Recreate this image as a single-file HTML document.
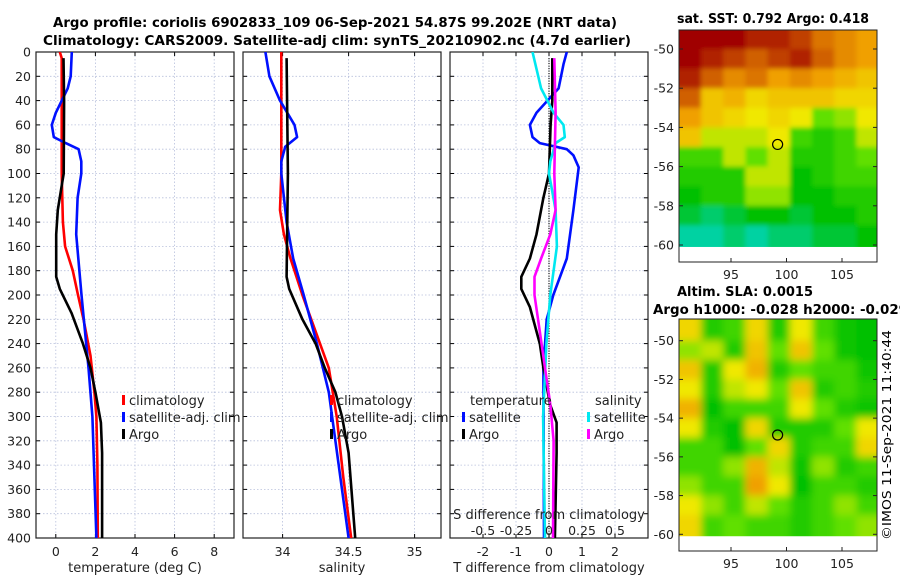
<!DOCTYPE html>
<html><head><meta charset="utf-8"><style>
html,body{margin:0;padding:0;background:#fff}
svg{display:block;font-family:"DejaVu Sans","Liberation Sans",sans-serif}
</style></head><body>
<svg id="fig" width="900" height="580" viewBox="0 0 900 580" xmlns="http://www.w3.org/2000/svg">
<defs>
<filter id="blur" filterUnits="userSpaceOnUse" x="650" y="280" width="250" height="300"><feGaussianBlur stdDeviation="4"/></filter>
<filter id="blur2" filterUnits="userSpaceOnUse" x="650" y="0" width="250" height="280"><feGaussianBlur stdDeviation="2.5"/></filter>
<clipPath id="c1"><rect x="36" y="52" width="198" height="486"/></clipPath>
<clipPath id="c2"><rect x="243" y="52" width="198" height="486"/></clipPath>
<clipPath id="c3"><rect x="450" y="52" width="198" height="486"/></clipPath>
<clipPath id="cm1"><rect x="679" y="30" width="198" height="232"/></clipPath>
<clipPath id="cm2"><rect x="679" y="319" width="198" height="232"/></clipPath>
</defs>
<text x="335" y="27" text-anchor="middle" font-weight="bold" font-size="13" textLength="564" lengthAdjust="spacingAndGlyphs">Argo profile: coriolis 6902833_109 06-Sep-2021 54.87S 99.202E (NRT data)</text>
<text x="337" y="45" text-anchor="middle" font-weight="bold" font-size="13" textLength="588" lengthAdjust="spacingAndGlyphs">Climatology: CARS2009. Satellite-adj clim: synTS_20210902.nc (4.7d earlier)</text>
<text x="677" y="23" font-weight="bold" font-size="13" textLength="192" lengthAdjust="spacingAndGlyphs">sat. SST: 0.792 Argo: 0.418</text>
<text x="677" y="296" font-weight="bold" font-size="13" textLength="136" lengthAdjust="spacingAndGlyphs">Altim. SLA: 0.0015</text>
<text x="653" y="314" font-weight="bold" font-size="13" textLength="255" lengthAdjust="spacingAndGlyphs">Argo h1000: -0.028 h2000: -0.029</text>
<text transform="translate(891,540) rotate(-90)" font-size="12.5" textLength="210" lengthAdjust="spacingAndGlyphs">©IMOS 11-Sep-2021 11:40:44</text>
<g id="root"></g>
</svg>
<script>
// ---------- data ----------
const depthTicks = [0,20,40,60,80,100,120,140,160,180,200,220,240,260,280,300,320,340,360,380,400];
const tempTicks = [0,2,4,6,8];
const salTicks = [34,34.5,35];
const salTickLabels = ["34","34.5","35"];
const tdiffTicks = [-2,-1,0,1,2];
const sdiffTicks = [-0.5,-0.25,0,0.25,0.5];
const sdiffTickLabels = ["-0.5","-0.25","0","0.25","0.5"];

const argoTempDepth = [5,40,100,110,130,150,185,195,215,240,260,280,305,330,400];
const argoTemp =      [0.39,0.42,0.4,0.3,0.1,0.02,0.02,0.2,0.8,1.37,1.75,2.0,2.28,2.34,2.34];
const climTempDepth = [0,5,40,100,140,160,180,200,220,250,280,300,340,400];
const climTemp =      [0.2,0.3,0.3,0.3,0.36,0.47,0.86,1.12,1.4,1.75,1.95,2.05,2.1,2.12];
const satTempDepth =  [0,20,30,50,60,70,75,80,90,100,120,150,200,260,300,400];
const satTemp =       [0.81,0.75,0.6,0.0,-0.2,-0.1,0.5,1.15,1.29,1.29,1.1,1.03,1.3,1.65,1.85,2.05];

const argoSalDepth = [5,100,185,195,220,240,260,280,300,330,400];
const argoSal =      [34.03,34.04,34.03,34.05,34.15,34.25,34.32,34.40,34.45,34.50,34.55];
const climSalDepth = [0,100,130,150,170,200,230,260,300,350,400];
const climSal =      [33.99,33.99,33.98,34.01,34.06,34.15,34.25,34.35,34.41,34.46,34.52];
const satSalDepth =  [0,20,40,60,70,78,90,100,140,170,200,240,280,320,400];
const satSal =       [33.87,33.9,33.98,34.09,34.11,34.02,33.99,33.99,34.03,34.08,34.16,34.26,34.35,34.40,34.5];

const satTdiffDepth = [0,10,30,50,60,70,75,80,85,95,130,170,200,220,260,400];
const satTdiff =      [0.54,0.44,0.29,-0.38,-0.58,-0.5,-0.28,0.54,0.74,0.9,0.74,0.54,0.13,-0.07,-0.17,-0.15];
const argoTdiffDepth = [5,40,60,100,120,150,170,185,195,210,240,260,290,305,330,400];
const argoTdiff =      [0.1,0.1,0.05,0,-0.17,-0.38,-0.58,-0.84,-0.84,-0.58,-0.28,-0.17,0.03,0.23,0.23,0.18];
const satSdiffDepth = [0,30,50,60,70,75,90,100,130,160,200,240,300,400];
const satSdiff =      [-0.125,-0.06,0.035,0.11,0.12,0.05,0.01,0,0.05,0.06,0.01,-0.02,-0.045,-0.03];
const argoSdiffDepth = [5,50,100,130,150,170,185,200,230,260,290,320,400];
const argoSdiff =      [0.04,0.05,0.04,0.05,0.01,-0.06,-0.11,-0.11,-0.07,-0.03,0.01,0.035,0.03];

const mapLonTicks = [95,100,105];
const mapLatTicks = [-50,-52,-54,-56,-58,-60];
const argoLon = 99.2, argoLat = -54.87;
const sstGrid = [
 [1,1,1,0.95,0.95,0.9,0.8,0.75,0.7],
 [1,0.95,0.9,0.85,0.9,0.95,0.85,0.75,0.7],
 [0.95,0.85,0.75,0.8,0.7,0.75,0.7,0.65,0.6],
 [0.85,0.6,0.65,0.55,0.6,0.6,0.6,0.55,0.55],
 [0.7,0.6,0.55,0.5,0.55,0.5,0.35,0.4,0.5],
 [0.6,0.45,0.45,0.45,0.5,0.3,0.25,0.3,0.45],
 [0.3,0.3,0.45,0.35,0.45,0.25,0.25,0.3,0.35],
 [0.25,0.25,0.25,0.45,0.45,0.2,0.25,0.3,0.3],
 [0.2,0.25,0.25,0.4,0.4,0.2,0.2,0.25,0.25],
 [0.15,0.1,0.15,0.2,0.2,0.15,0.2,0.2,0.25],
 [0.05,0.05,0.1,0.05,0.1,0.1,0.15,0.15,0.2]
];
const slaGrid = [
 [0.55,0.25,0.3,0.55,0.25,0.5,0.3,0.22,0.2],
 [0.4,0.45,0.25,0.6,0.35,0.6,0.35,0.22,0.2],
 [0.6,0.25,0.5,0.65,0.25,0.35,0.3,0.3,0.22],
 [0.5,0.25,0.45,0.5,0.35,0.6,0.25,0.3,0.25],
 [0.65,0.2,0.3,0.3,0.3,0.5,0.35,0.25,0.22],
 [0.5,0.25,0.2,0.55,0.25,0.25,0.25,0.35,0.5],
 [0.3,0.3,0.2,0.35,0.55,0.25,0.3,0.3,0.55],
 [0.3,0.3,0.4,0.65,0.45,0.22,0.4,0.25,0.3],
 [0.4,0.3,0.3,0.7,0.5,0.2,0.3,0.3,0.25],
 [0.5,0.4,0.3,0.45,0.35,0.25,0.3,0.4,0.3],
 [0.55,0.3,0.35,0.3,0.3,0.25,0.3,0.35,0.4]
];

// ---------- helpers ----------
const NS = "http://www.w3.org/2000/svg";
const root = document.getElementById('root');
function mk(tag, attrs, parent) {
  const e = document.createElementNS(NS, tag);
  for (const k in attrs) e.setAttribute(k, attrs[k]);
  (parent || root).appendChild(e);
  return e;
}
const Y0 = 52, Y1 = 538;
const yDepth = d => Y0 + (d / 400) * (Y1 - Y0);
function lin(d0, d1, r0, r1) { return v => r0 + (v - d0) / (d1 - d0) * (r1 - r0); }

function panel(name, x0, xScale, ticks, labels, xlabel) {
  const g = mk('g', {});
  
  
  depthTicks.forEach(d => {
    const y = yDepth(d);
    const l = mk('line', {x1: x0, x2: x0 + 198, y1: y, y2: y, stroke: '#b8c0dc', 'stroke-width': 0.8, 'stroke-dasharray': '1.5,2'}, g);
    
    
    mk('line', {x1: x0, x2: x0 + 4, y1: y, y2: y, stroke: '#000', 'stroke-width': 1}, g);
    mk('line', {x1: x0 + 194, x2: x0 + 198, y1: y, y2: y, stroke: '#000', 'stroke-width': 1}, g);
  });
  ticks.forEach((t, i) => {
    const x = xScale(t);
    const l = mk('line', {x1: x, x2: x, y1: Y0, y2: Y1, stroke: '#b8c0dc', 'stroke-width': 0.8, 'stroke-dasharray': '1.5,2'}, g);
    
    
    mk('line', {x1: x, x2: x, y1: Y1, y2: Y1 - 4, stroke: '#000'}, g);
    mk('line', {x1: x, x2: x, y1: Y0, y2: Y0 + 4, stroke: '#000'}, g);
    const t2 = mk('text', {x: x, y: 556, 'text-anchor': 'middle', 'font-size': 12.5, fill: '#222'}, g);
    
    
    t2.textContent = labels[i];
  });
  const f = mk('rect', {x: x0, y: Y0, width: 198, height: Y1 - Y0, fill: 'none', stroke: '#222', 'stroke-width': 1.2}, g);
  
  
  const xl = mk('text', {x: x0 + 99, y: 572, 'text-anchor': 'middle', 'font-size': 13, fill: '#222'}, g);
  
  
  xl.textContent = xlabel;
  return g;
}
function line(name, xs, ds, xScale, color, clip, parent) {
  const p = xs.map((v, i) => (i ? 'L' : 'M') + xScale(v).toFixed(1) + ',' + yDepth(ds[i]).toFixed(1)).join('');
  const e = mk('path', {d: p, fill: 'none', stroke: color, 'stroke-width': 2.6, 'stroke-linejoin': 'round', 'clip-path': 'url(#' + clip + ')'}, parent);
  
  
}
function legendEntry(name, x, y, color, label, parent) {
  const g = mk('g', {}, parent);
  
  
  mk('rect', {x: x, y: y - 10, width: 3, height: 10, fill: color}, g);
  const t = mk('text', {x: x + 7, y: y, 'font-size': 13, fill: '#222'}, g);
  t.textContent = label;
}

// ---------- panel 1: temperature ----------
const xT = lin(-1, 9, 36, 234);
const p1 = panel('temperature-panel', 36, xT, tempTicks, tempTicks.map(String), 'temperature (deg C)');
depthTicks.forEach(d => {
  const t = mk('text', {x: 31, y: yDepth(d) + 4.5, 'text-anchor': 'end', 'font-size': 12.5, fill: '#222'}, p1);
  
  
  t.textContent = d;
});
line('clim-temp-line', climTemp, climTempDepth, xT, '#ff0000', 'c1', p1);
line('sat-temp-line', satTemp, satTempDepth, xT, '#0010ff', 'c1', p1);
line('argo-temp-line', argoTemp, argoTempDepth, xT, '#000', 'c1', p1);
legendEntry('legend-climatology', 122, 405, '#ff0000', 'climatology', p1);
legendEntry('legend-satellite-adj', 122, 422, '#0010ff', 'satellite-adj. clim', p1);
legendEntry('legend-argo', 122, 439, '#000', 'Argo', p1);

// ---------- panel 2: salinity ----------
const xS = lin(33.7, 35.2, 243, 441);
const p2 = panel('salinity-panel', 243, xS, salTicks, salTickLabels, 'salinity');
line('clim-sal-line', climSal, climSalDepth, xS, '#ff0000', 'c2', p2);
line('sat-sal-line', satSal, satSalDepth, xS, '#0010ff', 'c2', p2);
line('argo-sal-line', argoSal, argoSalDepth, xS, '#000', 'c2', p2);
legendEntry('legend-climatology-2', 330, 405, '#ff0000', 'climatology', p2);
legendEntry('legend-satellite-adj-2', 330, 422, '#0010ff', 'satellite-adj. clim', p2);
legendEntry('legend-argo-2', 330, 439, '#000', 'Argo', p2);

// ---------- panel 3: differences ----------
const xD = lin(-3, 3, 450, 648);
const xSD = lin(-0.75, 0.75, 450, 648);
const p3 = panel('difference-panel', 450, xD, tdiffTicks, tdiffTicks.map(String), 'T difference from climatology');
const zl = mk('line', {x1: xD(0), x2: xD(0), y1: yDepth(5), y2: Y1, stroke: '#000', 'stroke-width': 1.2, 'stroke-dasharray': '1,1.5'}, p3);


line('sat-tdiff-line', satTdiff, satTdiffDepth, xD, '#0010ff', 'c3', p3);
line('argo-tdiff-line', argoTdiff, argoTdiffDepth, xD, '#000', 'c3', p3);
line('sat-sdiff-line', satSdiff, satSdiffDepth, xSD, '#00e8f0', 'c3', p3);
line('argo-sdiff-line', argoSdiff, argoSdiffDepth, xSD, '#ff00ff', 'c3', p3);
sdiffTicks.forEach((t, i) => {
  const e = mk('text', {x: xSD(t), y: 535, 'text-anchor': 'middle', 'font-size': 12.5, fill: '#222'}, p3);
  
  
  e.textContent = sdiffTickLabels[i];
});
const st = mk('text', {x: 549, y: 519, 'text-anchor': 'middle', 'font-size': 13, fill: '#222'}, p3);


st.textContent = 'S difference from climatology';
const lt1 = mk('text', {x: 470, y: 405, 'font-size': 13, fill: '#222'}, p3);


lt1.textContent = 'temperature';
const lt2 = mk('text', {x: 595, y: 405, 'font-size': 13, fill: '#222'}, p3);


lt2.textContent = 'salinity';
legendEntry('legend-t-satellite', 462, 422, '#0010ff', 'satellite', p3);
legendEntry('legend-t-argo', 462, 439, '#000', 'Argo', p3);
legendEntry('legend-s-satellite', 587, 422, '#00e8f0', 'satellite', p3);
legendEntry('legend-s-argo', 587, 439, '#ff00ff', 'Argo', p3);

// ---------- maps ----------
const stops = [[0,[0,216,216]],[0.2,[0,192,0]],[0.35,[96,224,0]],[0.5,[240,232,0]],[0.7,[240,160,0]],[0.85,[208,96,0]],[1,[160,0,0]]];
function cmap(v) {
  for (let i = 1; i < stops.length; i++) {
    if (v <= stops[i][0]) {
      const a = stops[i-1], b = stops[i], t = (v - a[0]) / (b[0] - a[0]);
      const c = a[1].map((x, k) => Math.round(x + (b[1][k] - x) * t));
      return 'rgb(' + c.join(',') + ')';
    }
  }
  return 'rgb(160,0,0)';
}
function drawMap(name, grid, top, bottom, latA, yA, latB, yB, dataBottomLat, clip, blur) {
  const g = mk('g', {});
  
  
  const xL = lin(95, 105, 731, 842);
  const yL = lin(latA, latB, yA, yB);
  const cells = mk('g', {'clip-path': 'url(#' + clip + ')'}, g);
  const inner = mk('g', {filter: 'url(#' + blur + ')'}, cells);
  grid.forEach((row, r) => {
    row.forEach((v, c) => {
      const lon0 = 90.3 + c * 2, lat0 = -49 - r;
      const y0 = r === 0 ? top - 10 : yL(lat0);
      const y1 = r === grid.length - 1 ? yL(dataBottomLat) + 8 : yL(lat0 - 1);
      const x0 = c === 0 ? 669 : xL(lon0);
      const x1 = c === row.length - 1 ? 887 : xL(lon0 + 2);
      const e = mk('rect', {x: x0, y: y0, width: x1 - x0 + 0.5, height: y1 - y0 + 0.5, fill: cmap(v)}, inner);
      
      
    });
  });
  mk('rect', {x: 679, y: yL(dataBottomLat), width: 198, height: bottom - yL(dataBottomLat), fill: '#fff'}, cells);
  const fr = mk('rect', {x: 679, y: top, width: 198, height: bottom - top, fill: 'none', stroke: '#222', 'stroke-width': 1}, g);
  
  
  mapLatTicks.forEach(lat => {
    const y = yL(lat);
    mk('line', {x1: 679, x2: 683, y1: y, y2: y, stroke: '#222'}, g);
    mk('line', {x1: 873, x2: 877, y1: y, y2: y, stroke: '#222'}, g);
    const t = mk('text', {x: 674, y: y + 4.5, 'text-anchor': 'end', 'font-size': 12.5, fill: '#222'}, g);
    
    
    t.textContent = lat;
  });
  mapLonTicks.forEach(lon => {
    const x = xL(lon);
    mk('line', {x1: x, x2: x, y1: bottom, y2: bottom - 4, stroke: '#222'}, g);
    const t = mk('text', {x: x, y: bottom + 17, 'text-anchor': 'middle', 'font-size': 12.5, fill: '#222'}, g);
    
    
    t.textContent = lon;
  });
  const m = mk('circle', {cx: xL(argoLon), cy: yL(argoLat), r: 5, fill: 'none', stroke: '#000', 'stroke-width': 1.2}, g);
  
  
}
drawMap('sst-map', sstGrid, 30, 262, -50, 49, -60, 245, -60.1, 'cm1', 'blur2');
drawMap('sla-map', slaGrid, 319, 551, -50, 340.7, -60, 534.3, -60.1, 'cm2', 'blur');
</script>
</body></html>
